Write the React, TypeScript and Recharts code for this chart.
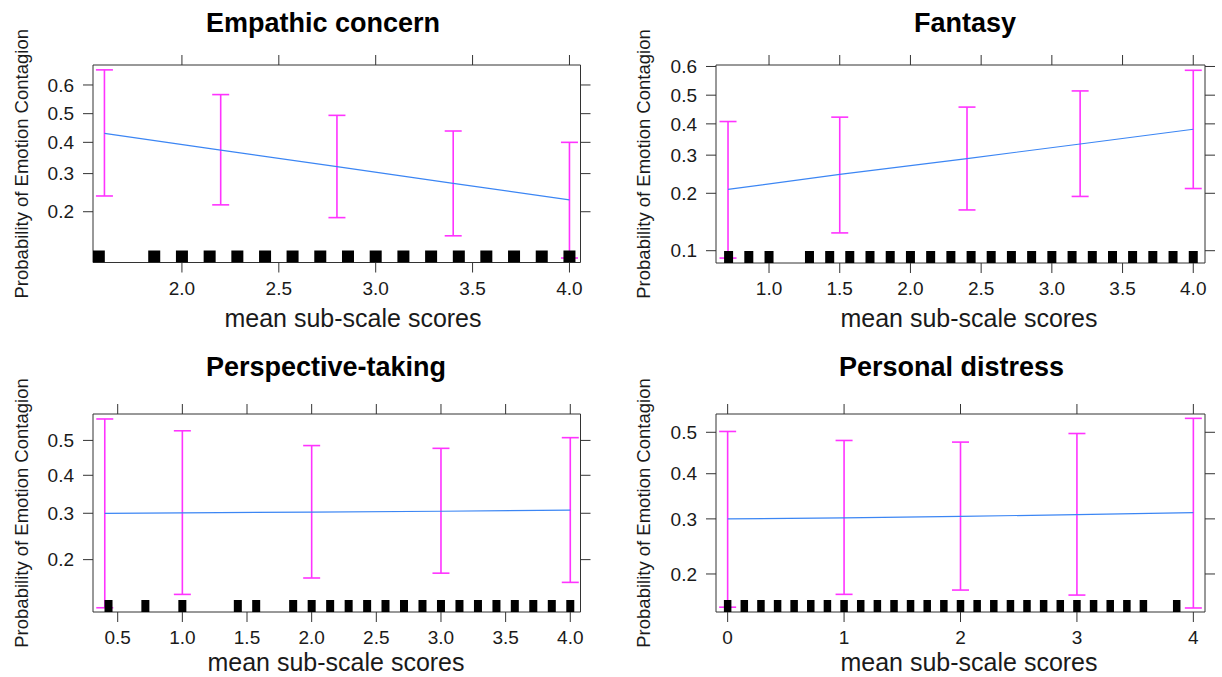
import React from 'react';
import { ComposedChart, Line, Scatter, XAxis, YAxis, ErrorBar } from 'recharts';

// effects on a logit scale: values are probabilities, the axes work in logits
const logit = (p: number) => Math.log(p / (1 - p));
const invLogit = (v: number) => 1 / (1 + Math.exp(-v));

// Empathic concern
const ecX = [1.6, 2.2, 2.8, 3.4, 4.0];
const ecFit = [0.431, 0.374, 0.321, 0.272, 0.228];
const ecLower = [0.238, 0.216, 0.187, 0.151, 0.115];
const ecUpper = [0.65, 0.567, 0.494, 0.439, 0.4];
const ecRug = [1.571, 1.857, 2.0, 2.143, 2.286, 2.429, 2.571, 2.714, 2.857, 3.0, 3.143, 3.286, 3.429, 3.571, 3.714, 3.857, 4.0];
const ecXTicks = [2.0, 2.5, 3.0, 3.5, 4.0];
const ecYTicks = [0.2, 0.3, 0.4, 0.5, 0.6];

// Fantasy
const faX = [0.71, 1.5, 2.4, 3.2, 4.0];
const faFit = [0.209, 0.246, 0.29, 0.334, 0.382];
const faLower = [0.091, 0.125, 0.165, 0.193, 0.211];
const faUpper = [0.408, 0.423, 0.458, 0.515, 0.587];
const faRug = [0.714, 0.857, 1.0, 1.286, 1.429, 1.571, 1.714, 1.857, 2.0, 2.143, 2.286, 2.429, 2.571, 2.714, 2.857, 3.0, 3.143, 3.286, 3.429, 3.571, 3.714, 3.857, 4.0];
const faXTicks = [1.0, 1.5, 2.0, 2.5, 3.0, 3.5, 4.0];
const faYTicks = [0.1, 0.2, 0.3, 0.4, 0.5, 0.6];

// Perspective-taking
const ptX = [0.4, 1.0, 2.0, 3.0, 4.0];
const ptFit = [0.3, 0.301, 0.303, 0.305, 0.308];
const ptLower = [0.125, 0.143, 0.168, 0.176, 0.161];
const ptUpper = [0.562, 0.528, 0.485, 0.477, 0.508];
const ptRug = [0.429, 0.714, 1.0, 1.429, 1.571, 1.857, 2.0, 2.143, 2.286, 2.429, 2.571, 2.714, 2.857, 3.0, 3.143, 3.286, 3.429, 3.571, 3.714, 3.857, 4.0];
const ptXTicks = [0.5, 1.0, 1.5, 2.0, 2.5, 3.0, 3.5, 4.0];
const ptYTicks = [0.2, 0.3, 0.4, 0.5];

// Personal distress
const pdX = [0, 1, 2, 3, 4];
const pdFit = [0.3, 0.302, 0.305, 0.309, 0.313];
const pdLower = [0.153, 0.17, 0.176, 0.169, 0.152];
const pdUpper = [0.502, 0.48, 0.476, 0.497, 0.534];
const pdRug = [0, 0.143, 0.286, 0.429, 0.571, 0.714, 0.857, 1.0, 1.143, 1.286, 1.429, 1.571, 1.714, 1.857, 2.0, 2.143, 2.286, 2.429, 2.571, 2.714, 2.857, 3.0, 3.143, 3.286, 3.429, 3.571, 3.857];
const pdXTicks = [0, 1, 2, 3, 4];
const pdYTicks = [0.2, 0.3, 0.4, 0.5];

const FONT = '"Liberation Sans", Arial, Helvetica, sans-serif';
const AXIS = '#333';
const LINE = '#3c86f4';
const BAR = '#ff33ff';
const TXT = '#1a1a1a';

// space around the plot box taken by the four axes
const L = 70, R = 24, T = 24, B = 44;

const panels = [
  {
    title: 'Empathic concern', x: ecX, fit: ecFit, lower: ecLower, upper: ecUpper, rug: ecRug,
    xTicks: ecXTicks, yTicks: ecYTicks, xDigits: 1,
    box: [92.5, 580, 65, 262.5], xDomain: [1.541, 4.057], yDomain: [0.1087, 0.6655], rugW: 12,
    titleX: 323, titleY: 31.5, xlabX: 353, xlabY: 326.5, ylabX: 28,
  },
  {
    title: 'Fantasy', x: faX, fit: faFit, lower: faLower, upper: faUpper, rug: faRug,
    xTicks: faXTicks, yTicks: faYTicks, xDigits: 1,
    box: [716, 1205, 65, 263], xDomain: [0.625, 4.083], yDomain: [0.0854, 0.605], rugW: 9,
    titleX: 965, titleY: 31.5, xlabX: 969, xlabY: 326.5, ylabX: 650,
  },
  {
    title: 'Perspective-taking', x: ptX, fit: ptFit, lower: ptLower, upper: ptUpper, rug: ptRug,
    xTicks: ptXTicks, yTicks: ptYTicks, xDigits: 1,
    box: [92.5, 580, 414, 612], xDomain: [0.309, 4.079], yDomain: [0.1197, 0.5762], rugW: 8,
    titleX: 326, titleY: 376, xlabX: 336, xlabY: 671, ylabX: 28,
  },
  {
    title: 'Personal distress', x: pdX, fit: pdFit, lower: pdLower, upper: pdUpper, rug: pdRug,
    xTicks: pdXTicks, yTicks: pdYTicks, xDigits: 0,
    box: [716, 1205, 414, 612], xDomain: [-0.1, 4.1], yDomain: [0.147, 0.5446], rugW: 7.5,
    titleX: 951.5, titleY: 376, xlabX: 969, xlabY: 671, ylabX: 650,
  },
];

type Panel = typeof panels[number];

const tickStyle = { fontSize: 19, fill: TXT, fontFamily: FONT };
const noLabel = () => '';

function EffectPanel({ p }: { p: Panel }) {
  const [x0, x1, y0, y1] = p.box;
  const w = x1 - x0 + L + R;
  const h = y1 - y0 + T + B;
  const yDom = [logit(p.yDomain[0]), logit(p.yDomain[1])];
  const yTicks = p.yTicks.map(logit);
  const fitData = p.x.map((x, i) => {
    const f = logit(p.fit[i]);
    return { x, y: f, err: [f - logit(p.lower[i]), logit(p.upper[i]) - f] };
  });
  const rugData = p.rug.map((x) => ({ x, y: yDom[0] }));
  const fmtX = (v: number) => v.toFixed(p.xDigits);
  const fmtY = (v: number) => invLogit(v).toFixed(1);

  const rugShape = (props: any) => (
    <rect x={props.cx - p.rugW / 2} y={props.cy - 12} width={p.rugW} height={12} fill="#000" />
  );

  return (
    <div style={{ position: 'absolute', left: x0 - L, top: y0 - T }}>
      <ComposedChart width={w} height={h} margin={{ top: 0, right: 0, bottom: 0, left: 0 }}>
        <XAxis xAxisId="b" dataKey="x" type="number" orientation="bottom" height={B}
          domain={p.xDomain} allowDataOverflow ticks={p.xTicks} tickFormatter={fmtX}
          stroke={AXIS} tickSize={10} tickMargin={9} tick={tickStyle} interval={0} />
        <XAxis xAxisId="t" dataKey="x" type="number" orientation="top" height={T}
          domain={p.xDomain} allowDataOverflow ticks={p.xTicks} tickFormatter={noLabel}
          stroke={AXIS} tickSize={10} tick={tickStyle} interval={0} />
        <YAxis yAxisId="l" dataKey="y" type="number" orientation="left" width={L}
          domain={yDom} allowDataOverflow ticks={yTicks} tickFormatter={fmtY}
          stroke={AXIS} tickSize={10} tickMargin={9} tick={tickStyle} interval={0} />
        <YAxis yAxisId="r" dataKey="y" type="number" orientation="right" width={R}
          domain={yDom} allowDataOverflow ticks={yTicks} tickFormatter={noLabel}
          stroke={AXIS} tickSize={10} tick={tickStyle} interval={0} />
        <Scatter xAxisId="b" yAxisId="l" data={rugData} dataKey="y" shape={rugShape}
          isAnimationActive={false} />
        <Line xAxisId="b" yAxisId="l" data={fitData} dataKey="y" type="linear"
          stroke={LINE} strokeWidth={1.2} dot={false} activeDot={false} isAnimationActive={false}>
          <ErrorBar dataKey="err" direction="y" width={8.5} stroke={BAR} strokeWidth={1.6}
            isAnimationActive={false} />
        </Line>
      </ComposedChart>
    </div>
  );
}

export default function App() {
  return (
    <div style={{ position: 'absolute', left: 0, top: 0, width: 1222, height: 677, background: '#fff', overflow: 'hidden' }}>
      {panels.map((p) => (
        <EffectPanel key={p.title} p={p} />
      ))}
      <svg width={1222} height={677} style={{ position: 'absolute', left: 0, top: 0, pointerEvents: 'none' }}>
        {panels.map((p) => {
          const cy = (p.box[2] + p.box[3]) / 2;
          return (
            <g key={p.title} fontFamily={FONT} fill={TXT}>
              <text x={p.titleX} y={p.titleY} textAnchor="middle" fontSize={27} fontWeight="bold" fill="#000">
                {p.title}
              </text>
              <text x={p.xlabX} y={p.xlabY} textAnchor="middle" fontSize={25}>
                mean sub-scale scores
              </text>
              <text x={p.ylabX} y={cy} textAnchor="middle" fontSize={18.5}
                transform={`rotate(-90 ${p.ylabX} ${cy})`}>
                Probability of Emotion Contagion
              </text>
            </g>
          );
        })}
      </svg>
    </div>
  );
}
